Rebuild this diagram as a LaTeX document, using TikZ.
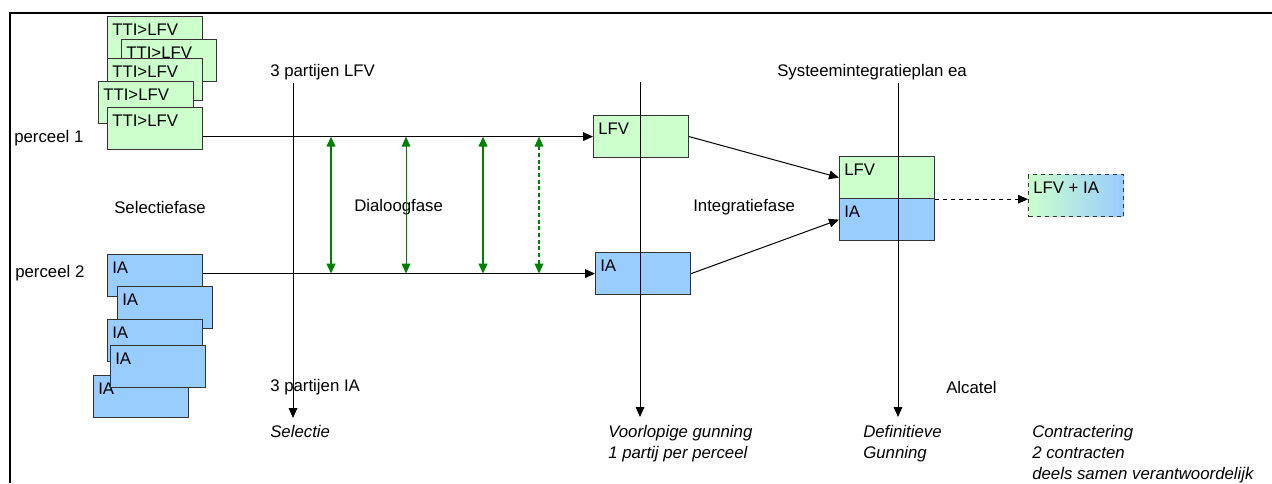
\documentclass[tikz,border=0pt]{standalone}
\usepackage{fontspec}
\setmainfont{Liberation Sans}
\usetikzlibrary{arrows.meta}
\definecolor{lfvgroen}{HTML}{CCFFCC}
\definecolor{iablauw}{HTML}{99CCFF}
\definecolor{dialoog}{HTML}{008000}
\definecolor{rand}{HTML}{333333}
\begin{document}
\begin{tikzpicture}[x=0.75pt,y=-0.75pt,
  font=\fontsize{12.6}{15.75}\selectfont,
  kavel/.style={draw=rand,line width=0.9pt,minimum width=71.25pt,minimum height=31.5pt,inner sep=0pt,anchor=north west},
  lfvbox/.style={kavel,fill=lfvgroen},
  iabox/.style={kavel,fill=iablauw},
  kop/.style={label={[anchor=north west,inner xsep=3.75pt,inner ysep=6pt]north west:#1}},
  tekst/.style={inner sep=0pt,anchor=west},
  fase/.style={inner sep=0pt,anchor=north west,align=left,font=\fontsize{12.6}{15.75}\selectfont\itshape},
  pijl/.style={-{Triangle[length=7.5pt,width=6.5pt]},line width=0.75pt},
  dikpijl/.style={{Triangle[length=7.5pt,width=6.5pt]}-{Triangle[length=7.5pt,width=6.5pt]},dialoog,line width=1.5pt},
  dunpijl/.style={{Triangle[length=7.5pt,width=6.5pt]}-{Triangle[length=7.5pt,width=6.5pt]},dialoog,line width=0.75pt},
  streeppijl/.style={dunpijl,line width=1.1pt,dash pattern=on 3pt off 2pt}]
\useasboundingbox (0,0) rectangle (1272,483);
% kader
\draw[line width=1.5pt] (10,483) -- (10,13) -- (1272,13);

% perceel 1: TTI>LFV
\node[lfvbox,kop=TTI>LFV] (g1) at (107,16) {};
\node[lfvbox,kop=TTI>LFV] (g2) at (121,39) {};
\node[lfvbox,kop=TTI>LFV] (g3) at (107,58) {};
\node[lfvbox,kop=TTI>LFV] (g4) at (98,81) {};
\node[lfvbox,kop=TTI>LFV] (g5) at (107,107) {};
\node[tekst] (perceel1) at (14,138) {perceel 1};

% perceel 2: IA
\node[iabox,kop=IA] (b1) at (107,254) {};
\node[iabox,kop=IA] (b2) at (117,286) {};
\node[iabox,kop=IA] (b3) at (107,319) {};
\node[iabox,kop=IA] (b5) at (93,375) {};
\node[iabox,kop=IA] (b4) at (110,345) {};
\node[tekst] (perceel2) at (15,273) {perceel 2};

% voorlopige gunning en integratie
\node[lfvbox,kop=LFV] (lfv) at (593,115) {};
\node[iabox,kop=IA] (ia) at (595,252) {};
\node[lfvbox,kop=LFV] (lfvc) at (839,156) {};
\node[iabox,kop=IA] (iac) at (839,198) {};
\node[kavel,dashed,left color=lfvgroen,right color=iablauw,kop={LFV + IA}] (samen) at (1028,174) {};

% fasen
\node[tekst] (selfase) at (114,207) {Selectiefase};
\node[tekst] (dialfase) at (354,207) {Dialoogfase};
\node[tekst] (intfase) at (693,207) {Integratiefase};

% mijlpalen
\node[tekst] (lfv3) at (270,72) {3 partijen LFV};
\node[tekst] (ia3) at (270,387) {3 partijen IA};
\node[tekst] (sip) at (777,72) {Systeemintegratieplan ea};
\node[tekst] (alcatel) at (946,387) {Alcatel};
\coordinate (selA) at (293,83); \coordinate (selB) at (293,418);
\coordinate (vgA) at (640,82); \coordinate (vgB) at (640,417);
\coordinate (dgA) at (898,83); \coordinate (dgB) at (898,417);
\draw[pijl] (selA) -- (selB);
\draw[pijl] (vgA) -- (vgB);
\draw[pijl] (dgA) -- (dgB);
\node[fase] (selectie) at (270,425) {Selectie};
\node[fase] (voorlopig) at (608,425) {Voorlopige gunning\\1 partij per perceel};
\node[fase] (definitief) at (863,425) {Definitieve\\Gunning};
\node[fase] (contract) at (1032,425) {Contractering\\2 contracten\\deels samen verantwoordelijk};

% verbindingen
\draw[pijl] (g5.east |- lfv.west) -- (lfv.west);
\draw[pijl] (b1.east |- ia.west) -- (ia.west);
\draw[pijl] (lfv.east) -- (lfvc.west);
\draw[pijl] (ia.east) -- (iac.west);
\draw[pijl,dashed] (lfvc.south east) -- (lfvc.south east -| samen.west);
\foreach \x/\stijl in {331/dikpijl,406/dunpijl,483/dikpijl,539/streeppijl}
  \draw[\stijl] (\x,0 |- lfv.west) -- (\x,0 |- ia.west);
\end{tikzpicture}
\end{document}
